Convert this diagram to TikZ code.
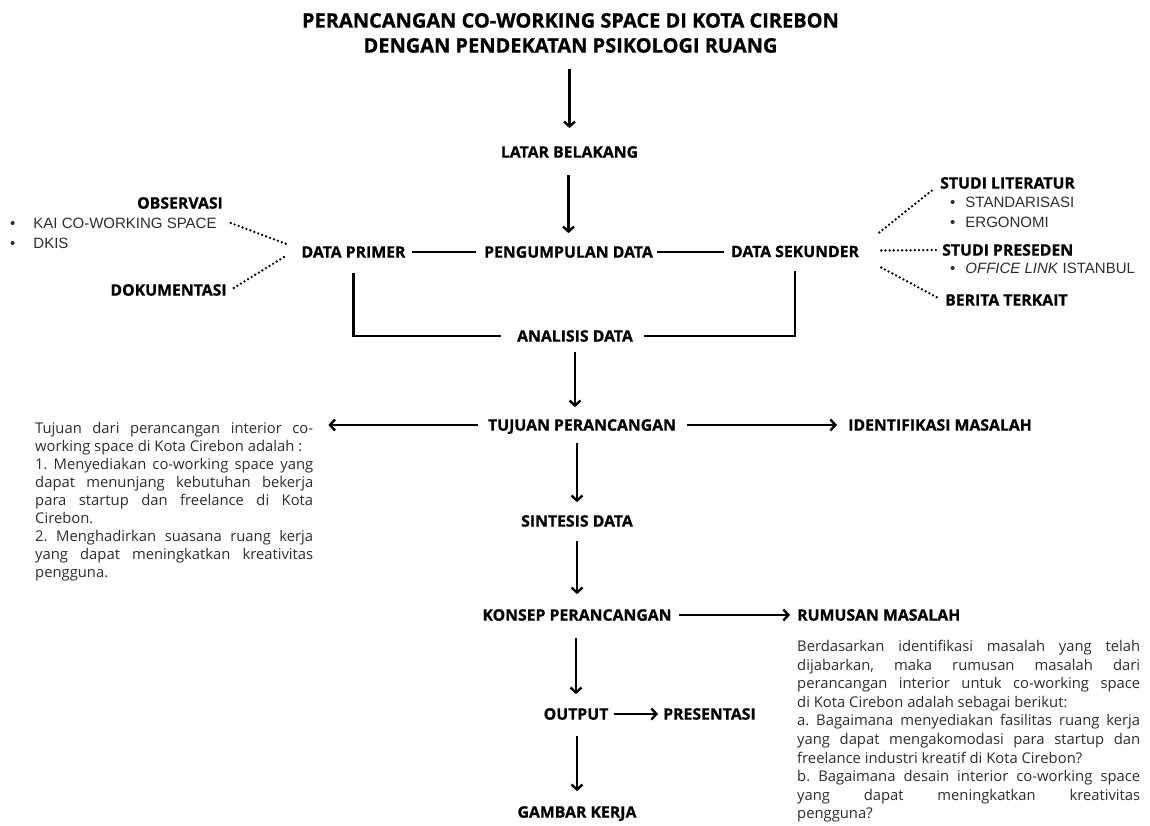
\documentclass[tikz,border=0pt]{standalone}
\usepackage{fontspec}
\setmainfont{Open Sans}[BoldFeatures={FakeBold=0.8}]
\newfontfamily\listfont{Liberation Sans}
\usetikzlibrary{positioning, arrows.meta, calc}
\definecolor{inkgray}{RGB}{45,45,45}
\newcommand{\bodysetup}{\frenchspacing\hyphenpenalty=10000\relax\exhyphenpenalty=10000\relax
	\tolerance=10000\relax\spaceskip=0.26em plus 1em minus 0.1em\relax}
\tikzset{
		heading/.style={
			font=\bfseries\fontsize{15.8}{18}\selectfont,
			inner sep=0pt,
			text height=11.3pt,
			text depth=0pt
		},
		titlebox/.style={
			font=\bfseries\fontsize{20}{25}\selectfont,
			align=center,
			inner sep=0pt
		},
		bodytext/.style={
			text=inkgray,
			align=justify,
			inner sep=0pt
		},
		listtext/.style={
			font=\listfont\fontsize{15}{20}\selectfont,
			text=inkgray,
			align=left,
			inner sep=0pt
		},
		flow/.style={
			line width=2.4pt,
			-{Straight Barb[length=5pt,width=11pt]}
		},
		joint/.style={line width=2.4pt},
		dots/.style={line width=2.6pt, line cap=round, dash pattern=on 0pt off 4.2pt}
	}
\begin{document}
\begin{tikzpicture}[x=1pt, y=-1pt]
		\useasboundingbox (0,0) rectangle (1150,826);
		% main column
		\node (title) [titlebox, anchor=north] at (570.5,12.9)
			{PERANCANGAN CO-WORKING SPACE DI KOTA CIREBON\\ DENGAN PENDEKATAN PSIKOLOGI RUANG};
		\node (latar) [heading] at (569.5,152) {LATAR BELAKANG};
		\node (kumpul) [heading] at (568.5,252) {PENGUMPULAN DATA};
		\node (primer) [heading] at (353.5,252) {DATA PRIMER};
		\node (sekunder) [heading] at (795,251.5) {DATA SEKUNDER};
		\node (analisis) [heading] at (575,336) {ANALISIS DATA};
		\node (tujuan) [heading] at (582,425) {TUJUAN PERANCANGAN};
		\node (idmasalah) [heading, anchor=west] at (848,425) {IDENTIFIKASI MASALAH};
		\node (sintesis) [heading] at (577,521) {SINTESIS DATA};
		\node (konsep) [heading] at (577,615) {KONSEP PERANCANGAN};
		\node (rumusan) [heading, anchor=west] at (797,615) {RUMUSAN MASALAH};
		\node (output) [heading] at (576,714) {OUTPUT};
		\node (presentasi) [heading, anchor=west] at (663,714) {PRESENTASI};
		\node (gambar) [heading] at (577,812) {GAMBAR KERJA};

		% data primer side
		\node (observasi) [heading] at (180,203) {OBSERVASI};
		\node (obslist) [listtext, anchor=north west] at (10,217.6)
			{\textbullet\hspace{18pt}KAI CO-WORKING SPACE\\ \textbullet\hspace{18pt}DKIS};
		\node (dokumentasi) [heading] at (168.5,290) {DOKUMENTASI};

		% data sekunder side
		\node (literatur) [heading, anchor=west] at (940,183) {STUDI LITERATUR};
		\node (litlist) [listtext, anchor=north west] at (950,196.6)
			{\textbullet\hspace{10pt}STANDARISASI\\ \textbullet\hspace{10pt}ERGONOMI};
		\node (preseden) [heading, anchor=west] at (942,250) {STUDI PRESEDEN};
		\node (preslist) [listtext, anchor=north west] at (950,262.6)
			{\textbullet\hspace{10pt}\textit{OFFICE LINK} ISTANBUL};
		\node (berita) [heading, anchor=west] at (945,300) {BERITA TERKAIT};

		% paragraphs
		\node (tujuantext) [bodytext, text width=278pt, anchor=north west,
			font=\fontsize{14.8}{18}\selectfont\bodysetup] at (35,422)
			{Tujuan dari perancangan interior co-\linebreak working space di Kota Cirebon adalah :\\
			1. Menyediakan co-working space yang\linebreak dapat menunjang kebutuhan bekerja\linebreak
			para startup dan freelance di Kota\linebreak Cirebon.\\
			2. Menghadirkan suasana ruang kerja\linebreak yang dapat meningkatkan kreativitas\linebreak pengguna.};
		\node (rumusantext) [bodytext, text width=343pt, anchor=north west,
			font=\fontsize{14.8}{18.6}\selectfont\bodysetup] at (797,640)
			{Berdasarkan identifikasi masalah yang telah\linebreak dijabarkan, maka rumusan masalah dari\linebreak
			perancangan interior untuk co-working space\linebreak di Kota Cirebon adalah sebagai berikut:\\
			a. Bagaimana menyediakan fasilitas ruang kerja\linebreak yang dapat mengakomodasi para startup dan\linebreak
			freelance industri kreatif di Kota Cirebon?\\
			b. Bagaimana desain interior co-working space\linebreak yang dapat meningkatkan kreativitas\linebreak pengguna?};

		%arrows:
		\draw[flow, shorten <=16pt, shorten >=18pt] (title.south -| latar) -- (latar);
		\draw[flow, shorten <=17pt, shorten >=13pt] (latar.south -| kumpul) -- (kumpul);
		\draw[flow, shorten <=10pt, shorten >=12pt] (analisis.south) -- (analisis.south |- tujuan.north);
		\draw[flow, shorten <=12pt, shorten >=13pt] (tujuan.south -| sintesis) -- (sintesis);
		\draw[flow, shorten <=14pt, shorten >=15pt] (sintesis) -- (konsep);
		\draw[flow, shorten <=17pt, shorten >=14pt] (konsep.south -| output) -- (output);
		\draw[flow, shorten <=16pt, shorten >=15pt] (output.south -| gambar) -- (gambar);
		\draw[flow, shorten <=10pt, shorten >=15pt] (tujuan.west) -- (tujuan.west -| tujuantext.east);
		\draw[flow, shorten <=11pt, shorten >=11pt] (tujuan.east) -- (tujuan.east -| idmasalah.west);
		\draw[flow, shorten <=7pt, shorten >=7pt] (konsep.east) -- (konsep.east -| rumusan.west);
		\draw[flow, shorten <=5pt, shorten >=5pt] (output.east) -- (output.east -| presentasi.west);

		%lines:
		\draw[joint, shorten <=6pt, shorten >=8pt] (primer.east) -- (kumpul.west);
		\draw[joint, shorten <=4pt, shorten >=7pt] (kumpul.east) -- (kumpul.east -| sekunder.west);
		\draw[joint, shorten <=15pt, shorten >=16pt] (primer.south) |- (analisis.west);
		\draw[joint, shorten <=14pt, shorten >=11pt] (sekunder.south) |- (analisis.east);

		%dotted:
		\draw[dots] ([xshift=14pt,yshift=-5.4pt]obslist.north east) -- ([xshift=-15pt,yshift=8pt]primer.west);
		\draw[dots] ([xshift=7pt,yshift=2pt]dokumentasi.east) -- ([xshift=-14pt,yshift=-3pt]primer.west);
		\draw[dots] ([xshift=20pt,yshift=19pt]sekunder.east) -- ([xshift=-5pt,yshift=-5pt]literatur.west);
		\draw[dots] ([xshift=22pt,yshift=1pt]sekunder.east) -- ([xshift=-5pt]preseden.west);
		\draw[dots] ([xshift=22pt,yshift=-16pt]sekunder.east) -- ([xshift=-5pt,yshift=1pt]berita.west);
	\end{tikzpicture}
\end{document}
